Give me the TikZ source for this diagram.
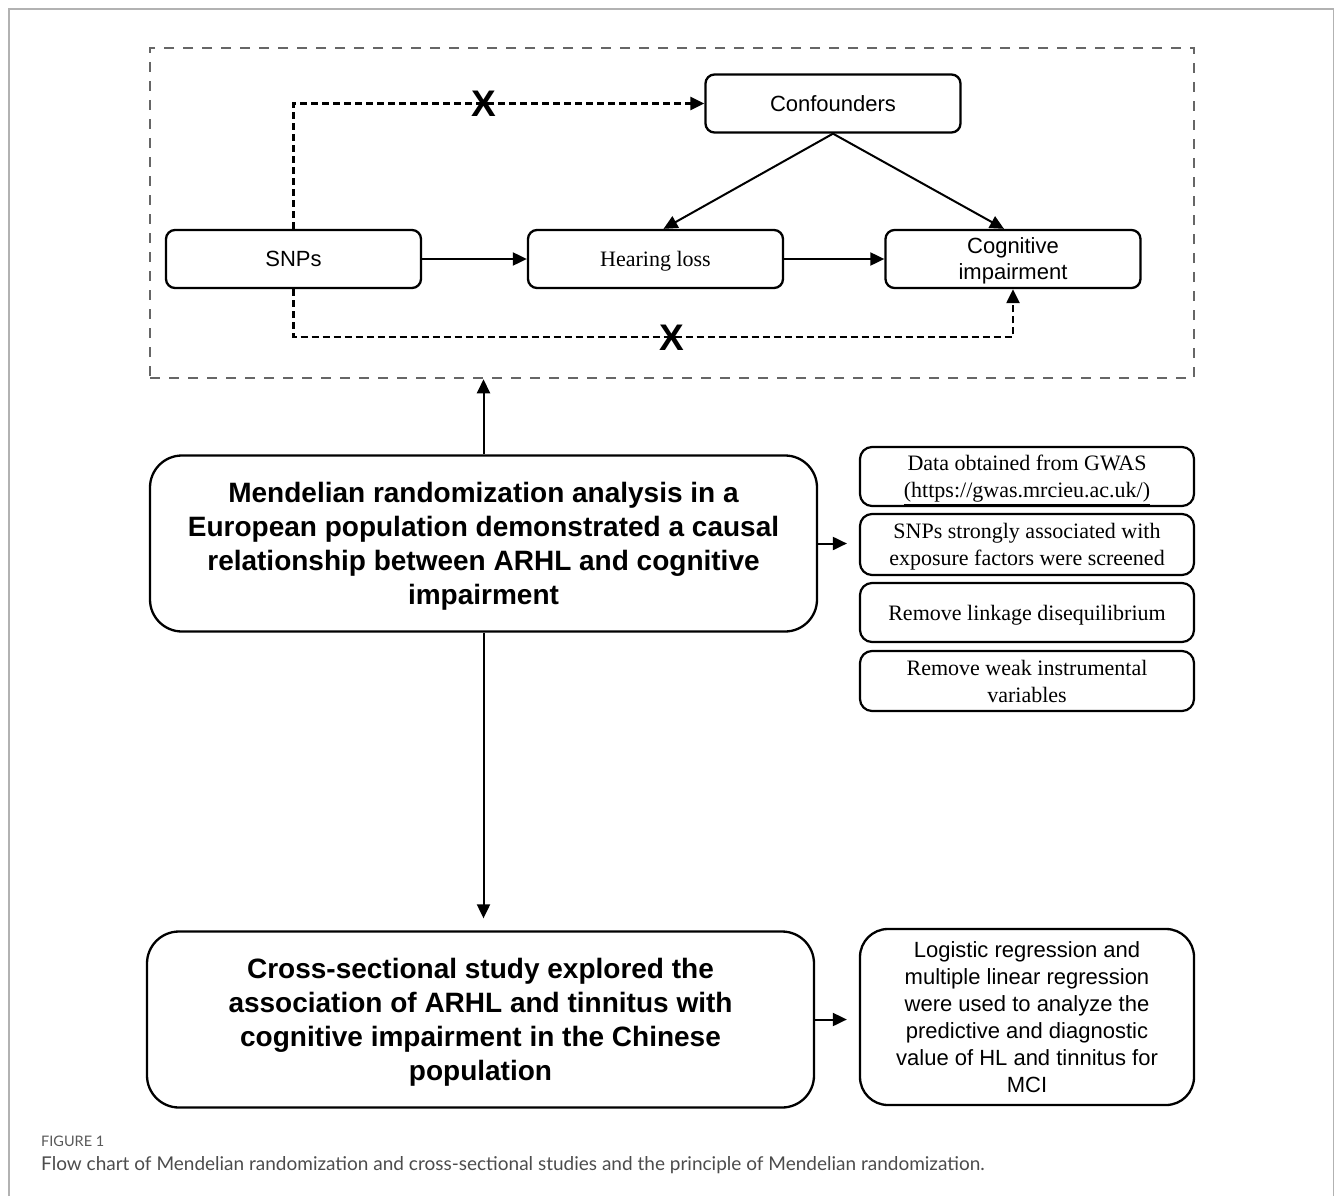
\documentclass[tikz,border=0pt]{standalone}
\usepackage{fontspec}
\setmainfont{Liberation Serif}
\setsansfont{Liberation Sans}
\newfontfamily\capf{Lato}
\usetikzlibrary{arrows.meta,calc}
\begin{document}
\begin{tikzpicture}[x=1pt,y=-1pt,
  bx/.style={draw, line width=2.3pt, align=center, inner sep=0pt, text=black, text depth=0pt},
  smallbox/.style={bx, rounded corners=9pt, minimum width=255pt, minimum height=58pt},
  sanstext/.style={font=\sffamily\fontsize{22}{26}\selectfont},
  seriftext/.style={font=\rmfamily\fontsize{22}{27}\selectfont},
  bigbox/.style={bx, rounded corners=32pt, minimum width=667pt, minimum height=176pt, font=\sffamily\bfseries\fontsize{28}{34}\selectfont},
  sidebox/.style={bx, line width=2.2pt, rounded corners=12pt, minimum width=334pt, seriftext},
  arr/.style={line width=2pt, -{Triangle[length=14pt,width=13pt]}},
  dsh/.style={line width=2.3pt, dash pattern=on 7pt off 4pt},
  xmark/.style={font=\sffamily\bfseries\fontsize{37}{37}\selectfont, inner sep=0pt}
]
\useasboundingbox (0,0) rectangle (1335,1196);
\draw[black!30, line width=1.5pt] (9,1196) -- (9,9) -- (1333.5,9) -- (1333.5,1196);

% dashed frame of the MR principle
\node[draw=black!60, line width=2.5pt, dash pattern=on 10pt off 9pt, minimum width=1044pt, minimum height=330pt, inner sep=0pt] (frame) at (672,213) {};

\node[smallbox, sanstext] (snp) at (293.5,259) {SNPs};
\node[smallbox, seriftext] (hear) at (655.5,259) {Hearing loss};
\node[smallbox, sanstext] (cog) at (1013,259) {Cognitive\\impairment};
\node[smallbox, sanstext] (conf) at (833,103.5) {Confounders};

\draw[arr] (snp) -- (hear);
\draw[arr] (hear) -- (cog);
\draw[arr] (conf.south) -- ($(hear.north)+(8,0)$);
\draw[arr] (conf.south) -- ($(cog.north)+(-9,0)$);
\draw[arr, dsh] (snp.north) |- (conf.west);
\coordinate (low) at (0,337);
\draw[arr, dsh] (snp.south) -- (snp.south |- low) -- (cog.south |- low) -- (cog.south);
\node[xmark] (x1) at (484,104) {X};
\node[xmark] (x2) at (672,338) {X};

% main boxes
\node[bigbox] (mr) at (483.5,543.5) {Mendelian randomization analysis in a\\European population demonstrated a causal\\relationship between ARHL and cognitive\\impairment};
\node[bigbox] (cs) at (480.5,1019.5) {Cross-sectional study explored the\\association of ARHL and tinnitus with\\cognitive impairment in the Chinese\\population};

\draw[arr] (mr.north) -- (mr.north |- frame.south);
\draw[arr, shorten >=12pt] (mr.south) -- (mr.south |- cs.north);

% side boxes
\node[sidebox, minimum height=59pt] (r1) at (1027,476.5) {Data obtained from GWAS\\\underline{(https://gwas.mrcieu.ac.uk/)}};
\node[sidebox, minimum height=61pt] (r2) at (1027,544.5) {SNPs strongly associated with\\exposure factors were screened};
\node[sidebox, minimum height=59pt] (r3) at (1027,612.5) {Remove linkage disequilibrium};
\node[sidebox, minimum height=60pt] (r4) at (1027,681) {Remove weak instrumental\\variables};
\node[bx, rounded corners=28pt, minimum width=334pt, minimum height=176pt, font=\sffamily\fontsize{22}{27}\selectfont] (r5) at (1027,1017) {Logistic regression and\\multiple linear regression\\were used to analyze the\\predictive and diagnostic\\value of HL and tinnitus for\\MCI};

\draw[arr, shorten >=12pt] (mr.east) -- (mr.east -| r2.west);
\draw[arr, shorten >=12pt] (cs.east) -- (cs.east -| r5.west);

% caption
\node[anchor=west, inner sep=0pt, text=black!65, font=\capf\fontsize{14.5}{14.5}\selectfont] (figlab) at (41,1141) {FIGURE 1};
\node[anchor=west, inner sep=0pt, text=black!70, font=\capf\fontsize{19}{19}\selectfont] (cap) at (41,1165) {Flow chart of Mendelian randomization and cross-sectional studies and the principle of Mendelian randomization.};
\end{tikzpicture}
\end{document}
